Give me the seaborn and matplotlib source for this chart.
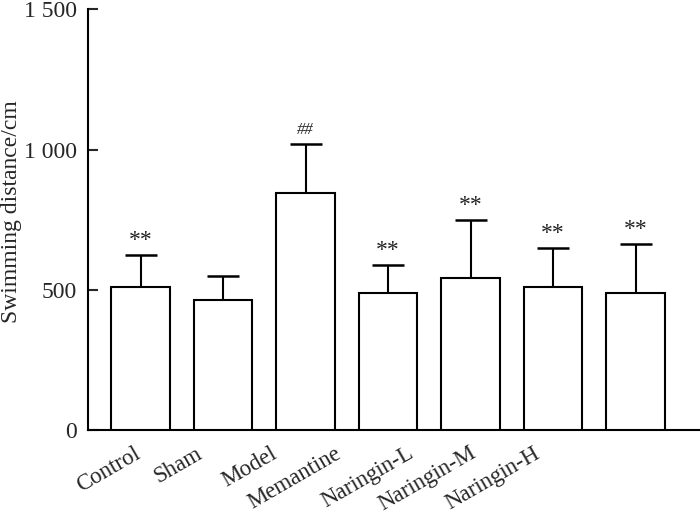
import matplotlib
matplotlib.use("Agg")
import matplotlib.pyplot as plt
import seaborn as sns
import pandas as pd

groups = ["Control", "Sham", "Model", "Memantine", "Naringin-L", "Naringin-M", "Naringin-H"]
means = [510, 464, 845, 488, 544, 509, 490]
errors = [113, 84, 174, 100, 204, 139, 173]
marks = ["**", "", "##", "**", "**", "**", "**"]
yticks = [0, 500, 1000, 1500]
yticklabels = ["0", "500", "1 000", "1 500"]
# label anchor positions (labels in the original are spaced tighter than the bars)
label_pos = [-0.08, 0.66, 1.57, 2.35, 3.22, 3.98, 4.76]

sns.set_theme(style="ticks")
plt.rcParams['font.family'] = ['Liberation Serif', 'DejaVu Serif']

df = pd.DataFrame({"group": groups, "mean": means})

fig = plt.figure(figsize=(7.0, 5.14), dpi=100)
ax = fig.add_axes([0.126, 0.163, 0.874, 0.819])

sns.barplot(data=df, x="group", y="mean", ax=ax, color="white",
            edgecolor="black", linewidth=1.5, width=0.71, errorbar=None, zorder=3)
ax.errorbar(range(len(groups)), means, yerr=[[0]*len(groups), errors], fmt="none",
            ecolor="black", elinewidth=1.5, capsize=11.5, capthick=1.8, zorder=2)

for i, (m, e, t) in enumerate(zip(means, errors, marks)):
    if t == "**":
        ax.text(i, m + e + 14, t, ha="center", va="bottom", fontsize=17, color="#222222")
    elif t:
        ax.text(i, m + e + 22, t, ha="center", va="bottom", fontsize=12,
                style="italic", color="#222222")

ax.set_xlim(-0.636, 6.78)
ax.set_ylim(0, 1500)
ax.set_yticks(yticks)
ax.set_yticklabels(yticklabels, fontsize=17)
ax.set_xticks(label_pos)
ax.set_xticklabels(groups, fontsize=16.5, rotation=30, ha="right", va="top",
                   rotation_mode="anchor")
ax.tick_params(axis="x", length=0, pad=9)
ax.tick_params(axis="y", length=7, width=1.5, direction="in", pad=8)
ax.set_xlabel("")
ax.set_ylabel("Swimming distance/cm", fontsize=17)
ax.yaxis.set_label_coords(-0.108, 0.52)
for s in ["top", "right"]:
    ax.spines[s].set_visible(False)
for s in ["left", "bottom"]:
    ax.spines[s].set_linewidth(1.5)
    ax.spines[s].set_color("black")

fig.savefig("out.png", dpi=100)
